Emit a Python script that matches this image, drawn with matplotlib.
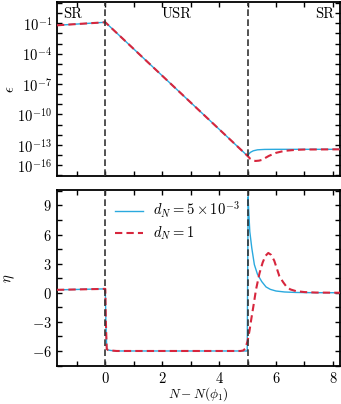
import numpy as np
import matplotlib
matplotlib.use('Agg')
import matplotlib.pyplot as plt
from matplotlib.ticker import FixedLocator, MultipleLocator, FuncFormatter, NullFormatter

plt.rcParams['font.family'] = 'serif'
plt.rcParams['font.serif'] = ['cmr10', 'DejaVu Serif']
plt.rcParams['mathtext.fontset'] = 'cm'
plt.rcParams['axes.formatter.use_mathtext'] = True
plt.rcParams['font.size'] = 10.5

BLUE = '#2aa9de'
RED = '#d7263d'
GREY = '#333333'

# epsilon (log10 values)
eps_N_common = [-1.7, 0.0, 5.0]
eps_log_common = [-1.2, -0.9, -14.1]
eps_N_blue = [5.0, 5.05, 5.1, 5.2, 5.35, 5.6, 6.0, 8.3]
eps_log_blue = [-14.1, -13.9, -13.75, -13.6, -13.5, -13.46, -13.45, -13.45]
eps_N_red = [5.0, 5.1, 5.2, 5.28, 5.4, 5.5, 5.75, 6.0, 6.3, 6.7, 7.0, 8.3]
eps_log_red = [-14.1, -14.4, -14.55, -14.6, -14.57, -14.5, -14.1, -13.8, -13.6, -13.5, -13.47, -13.45]

# eta
eta_N_common = [-1.7, 0.0, 0.02, 0.05, 0.1, 0.2, 0.4, 4.75]
eta_common = [0.3, 0.4, -3.0, -5.8, -5.9, -5.95, -6.0, -6.0]
eta_N_blue = [4.75, 4.99, 5.02, 5.04, 5.08, 5.15, 5.24, 5.35, 5.5, 5.65, 5.8, 6.0, 6.3, 6.7, 7.2, 8.3]
eta_blue = [-6.0, -6.0, 9.9, 8.5, 6.3, 4.6, 2.9, 1.9, 1.15, 0.6, 0.35, 0.18, 0.08, 0.03, 0.01, 0.0]
eta_N_red = [4.75, 4.85, 4.92, 5.0, 5.07, 5.13, 5.2, 5.3, 5.42, 5.53, 5.63, 5.73, 5.83,
             5.94, 6.03, 6.12, 6.25, 6.35, 6.5, 6.7, 7.0, 7.4, 8.3]
eta_red = [-6.0, -5.95, -5.75, -5.0, -3.9, -2.75, -1.5, 0.35, 2.0, 3.1, 3.8, 4.1, 3.9,
           3.3, 2.5, 1.7, 1.1, 0.7, 0.35, 0.17, 0.07, 0.02, 0.0]

N_transitions = [0.0, 5.02]
eps_ticks = [-1, -4, -7, -10, -13, -15]
eps_tick_labels = ['$10^{-1}$', '$10^{-4}$', '$10^{-7}$', '$10^{-10}$', '$10^{-13}$', '$10^{-16}$']

fig = plt.figure(figsize=(3.41, 4.04), dpi=100)
ax1 = fig.add_axes([0.167, 0.564, 0.830, 0.431])
ax2 = fig.add_axes([0.167, 0.094, 0.830, 0.436])

# top panel
ax1.plot(eps_N_common + eps_N_blue[1:], 10.0 ** np.array(eps_log_common + eps_log_blue[1:]),
         color=BLUE, lw=1.0, zorder=3)
ax1.plot(eps_N_common + eps_N_red[1:], 10.0 ** np.array(eps_log_common + eps_log_red[1:]),
         color=RED, lw=1.5, ls=(0, (3.5, 2)), zorder=4)
ax1.set_yscale('log')
ax1.set_ylim(10 ** -16.1, 10 ** 1.1)
ax1.yaxis.set_major_locator(FixedLocator([10.0 ** e for e in eps_ticks]))
ax1.yaxis.set_major_formatter(FuncFormatter(
    lambda v, p: eps_tick_labels[eps_ticks.index(int(round(np.log10(v))))]
    if int(round(np.log10(v))) in eps_ticks else ''))
ax1.yaxis.set_minor_locator(FixedLocator([10.0 ** e for e in range(1, -17, -1)]))
ax1.yaxis.set_minor_formatter(NullFormatter())
ax1.set_ylabel(r'$\epsilon$', va='center')
ax1.yaxis.set_label_coords(-0.165, 0.5)
ax1.xaxis.set_major_formatter(NullFormatter())

ax1.text(-1.5, 0.93, 'SR', transform=ax1.get_xaxis_transform(), ha='left', va='center')
ax1.text(2.5, 0.93, 'USR', transform=ax1.get_xaxis_transform(), ha='center', va='center')
ax1.text(8.05, 0.93, 'SR', transform=ax1.get_xaxis_transform(), ha='right', va='center')

# bottom panel
ax2.plot(eta_N_common + eta_N_blue[1:], eta_common + eta_blue[1:],
         color=BLUE, lw=1.0, zorder=3, label=r'$d_N = 5\times10^{-3}$')
ax2.plot(eta_N_common + eta_N_red[1:], eta_common + eta_red[1:],
         color=RED, lw=1.5, ls=(0, (3.5, 2)), zorder=4, label=r'$d_N = 1$')
ax2.set_ylim(-7.55, 10.6)
ax2.yaxis.set_major_locator(MultipleLocator(3))
ax2.yaxis.set_minor_locator(MultipleLocator(1.5))
ax2.yaxis.set_major_formatter(FuncFormatter(lambda v, p: r'$%d$' % round(v)))
ax2.set_ylabel(r'$\eta$', va='center')
ax2.yaxis.set_label_coords(-0.165, 0.5)
ax2.set_xlabel(r'$N - N(\phi_1)$', va='center', fontsize=9.5)
ax2.xaxis.set_label_coords(0.5, -0.158)
ax2.xaxis.set_major_formatter(FuncFormatter(lambda v, p: r'$%d$' % round(v)))
ax2.legend(loc='upper left', bbox_to_anchor=(0.17, 1.0), frameon=False,
           handlelength=1.9, handletextpad=0.7, borderaxespad=0.3, labelspacing=0.3,
           fontsize=10.5)

for ax in (ax1, ax2):
    for x in N_transitions:
        ax.axvline(x, color=GREY, lw=1.2, ls=(0, (4, 2)), zorder=5)
    ax.set_xlim(-1.7, 8.25)
    ax.xaxis.set_major_locator(MultipleLocator(2))
    ax.xaxis.set_minor_locator(MultipleLocator(1))
    ax.tick_params(which='both', direction='in', top=True, right=True, width=1.0)
    ax.tick_params(which='major', length=3.5)
    ax.tick_params(which='minor', length=3.5)
    for s in ax.spines.values():
        s.set_linewidth(1.3)

fig.savefig('out.png', dpi=100)
